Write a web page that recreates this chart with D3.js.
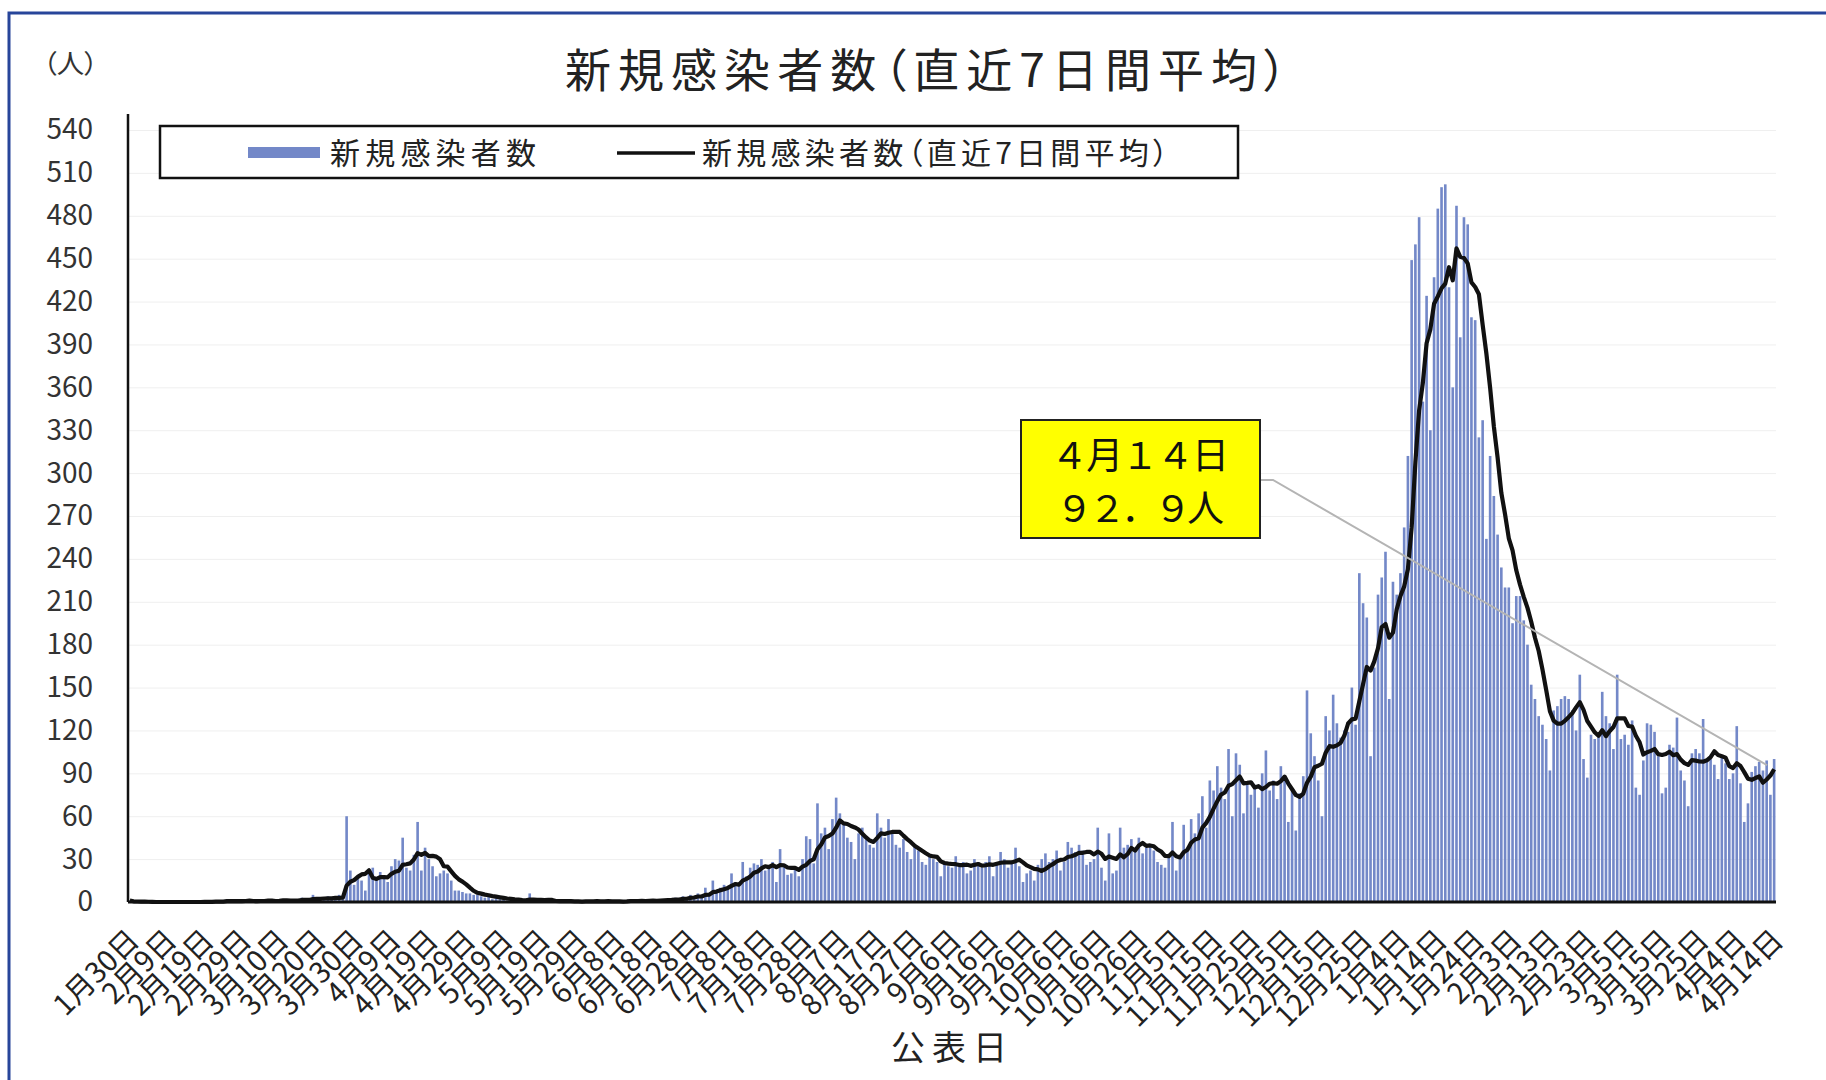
<!DOCTYPE html>
<html lang="ja">
<head>
<meta charset="utf-8">
<title>新規感染者数（直近7日間平均）</title>
<script src="https://cdn.jsdelivr.net/npm/d3@7"></script>
<style>
  body { margin: 0; background: #fff; }
  svg { display: block; font-family: "Noto Sans CJK JP", "Noto Sans", sans-serif; }
  .palt { font-feature-settings: "palt"; }
</style>
</head>
<body>
<div class="chart"></div>
<script>

// first day of the series (公表日), one value per day after that
const startDate = new Date(2020, 0, 30);

// daily new cases, Jan 30 2020 .. Apr 14 2021
const dailyCases = [
  1,0,0,0,0,0,0,0,0,0, 0,0,0,0,0,0,0,0,0,0,
  1,0,0,1,0,0,2,1,0,1, 0,1,2,0,0,1,1,2,1,0,
  1,2,1,0,2,1,3,2,1,5, 2,1,3,4,2,3,5,3,
  60,22,
  12,18,15,8,20,24,16,21,18,14,
  25,30,29,45,24,22,33,56,22,38,
  30,25,18,20,22,20,15,8,8,7,
  6,6,5,5,4,3,4,2,3,2,
  2,1,1,2,1,
  0,1,6,1,0,
  1,0,2,0,1,0,0,1,0,1,
  0,0,1,0,1,1,0,0,1,0,
  0,1,0,1,2,1,0,1,0,1,
  2,1,2,
  1,2,1,3,2,4,3,
  5,4,6,3,10,5,15,8,10,12,
  9,20,14,12,28,18,24,27,26,30,
  22,24,28,14,37,25,19,20,24,18,
  30,46,44,27,69,48,52,37,58,73,62,
  55,45,42,30,48,52,44,40,38,
  62,52,45,58,48,40,38,44,35,30,
  40,36,28,26,33,30,28,18,28,25,
  24,32,26,28,20,22,30,28,24,28,
  32,18,27,35,30,24,28,38,25,14,20,
  22,15,26,30,34,28,30,36,22,
  28,42,38,35,40,36,26,28,30,52,
  24,15,48,20,22,52,38,40,44,36,
  45,34,38,40,36,28,26,24,32,56,
  22,30,54,38,58,48,62,74,52,85,
  78,95,80,72,107,60,104,96,62,82,
  75,82,66,90,106,78,85,72,95,88,
  56,78,50,76,88,148,118,
  102,85,60,130,
  120,145,125,115,120,119,150,124,230,
  209,199,102,164,215,227,245,142,224,215,
  230,262,312,449,460,479,350,424,330,437,
  485,500,502,430,360,487,395,479,474,409,
  407,325,337,254,312,284,257,234,220,220,
  195,214,214,197,180,152,142,130,124,114,
  92,134,137,142,144,142,134,120,159,100,
  87,117,114,117,147,130,125,107,159,114,
  117,110,127,80,75,99,125,124,119,
  102,76,80,110,108,129,92,85,67,104,107,
  104,128,99,100,96,86,101,97,86,90,
  123,83,56,69,91,95,98,92,99,75,100
];

const yTicks = [0,30,60,90,120,150,180,210,240,270,300,330,360,390,420,450,480,510,540];
const labelStep = 10;   // a date label every 10 days
const avgWindow = 7;

const titleText = "新規感染者数（直近7日間平均）";
const legendLabels = ["新規感染者数", "新規感染者数（直近7日間平均）"];
const unitText = "（人）";
const xTitleText = "公表日";

const barColor = "#7388c8";

const W = 1826, H = 1080;
const plot = {left: 128, right: 1776, top: 130, bottom: 902};

const dates = dailyCases.map((d, i) => d3.timeDay.offset(startDate, i));
const fmtDay = d3.timeFormat("%-m月%-d日");
// digits and dot as full width, like the call-out box
const wide = s => s.replace(/[0-9.]/g, c => String.fromCharCode(c.charCodeAt(0) + 0xFEE0));

// 7 day rolling mean of the daily numbers
const avg = dailyCases.map((d, i) => d3.mean(dailyCases.slice(Math.max(0, i - avgWindow + 1), i + 1)));

const svg = d3.select(".chart").append("svg")
    .attr("width", W)
    .attr("height", H);

svg.append("rect").attr("width", W).attr("height", H).attr("fill", "#fff");

// blue frame round the sheet
svg.append("path")
    .attr("d", `M9,${H} V13 H${W}`)
    .attr("fill", "none")
    .attr("stroke", "#27459a")
    .attr("stroke-width", 3);

const xScale = d3.scaleBand()
    .domain(d3.range(dailyCases.length))
    .range([plot.left, plot.right])
    .paddingInner(0.3)
    .paddingOuter(0.15);

const yScale = d3.scaleLinear()
    .domain([0, 540])
    .range([plot.bottom, plot.top]);

const bw = xScale.bandwidth();

// faint grid
svg.append("g")
    .attr("class", "grid")
    .attr("transform", `translate(${plot.left},0)`)
    .call(d3.axisLeft(yScale).tickValues(yTicks).tickSize(-(plot.right - plot.left)).tickFormat(""))
    .call(g => g.select(".domain").remove())
    .call(g => g.selectAll("line").attr("stroke", "#efefef").attr("stroke-width", 1));

// bars
svg.append("g").selectAll(".bar")
    .data(dailyCases)
    .enter()
    .append("rect")
    .attr("class", "bar")
    .attr("x", (d, i) => xScale(i))
    .attr("width", bw)
    .attr("y", d => yScale(d))
    .attr("height", d => plot.bottom - yScale(d))
    .attr("fill", barColor);

// 7 day average line
const line = d3.line()
    .x((d, i) => xScale(i) + bw / 2)
    .y(d => yScale(d));

svg.append("path")
    .datum(avg)
    .attr("fill", "none")
    .attr("stroke", "#111")
    .attr("stroke-width", 4.2)
    .attr("stroke-linejoin", "round")
    .attr("d", line);

// y axis
svg.append("g")
    .attr("class", "axis y-axis")
    .attr("transform", `translate(${plot.left},0)`)
    .call(d3.axisLeft(yScale).tickValues(yTicks).tickSize(0).tickPadding(35))
    .call(g => g.select(".domain").remove())
    .call(g => g.selectAll("text")
        .attr("font-size", 28)
        .attr("fill", "#333")
        .attr("font-family", "'Noto Sans CJK JP', sans-serif"));

svg.append("line")
    .attr("x1", plot.left).attr("x2", plot.left)
    .attr("y1", plot.top - 16).attr("y2", plot.bottom)
    .attr("stroke", "#111")
    .attr("stroke-width", 2.5);

// x axis with slanted date labels
const labelIdx = d3.range(0, dailyCases.length, labelStep);

svg.append("g")
    .attr("class", "axis x-axis")
    .attr("transform", `translate(0,${plot.bottom})`)
    .call(d3.axisBottom(xScale).tickValues(labelIdx).tickSize(0).tickFormat(i => fmtDay(dates[i])))
    .call(g => g.select(".domain").remove())
    .call(g => g.selectAll("text")
        .attr("x", 0).attr("y", 0).attr("dy", null)
        .attr("text-anchor", "end")
        .attr("transform", "translate(11,40) rotate(-45)")
        .attr("font-size", 29)
        .attr("fill", "#222")
        .attr("font-family", "'Noto Sans CJK JP', sans-serif"));

svg.append("line")
    .attr("x1", plot.left).attr("x2", plot.right)
    .attr("y1", plot.bottom).attr("y2", plot.bottom)
    .attr("stroke", "#111")
    .attr("stroke-width", 3);

// titles
svg.append("text")
    .attr("class", "palt")
    .attr("x", 926).attr("y", 87)
    .attr("text-anchor", "middle")
    .attr("font-size", 46)
    .attr("fill", "#222")
    .attr("textLength", 722)
    .attr("lengthAdjust", "spacing")
    .text(titleText);

svg.append("text")
    .attr("class", "palt")
    .attr("x", 43).attr("y", 73)
    .attr("font-size", 26)
    .attr("fill", "#333")
    .attr("textLength", 55)
    .attr("lengthAdjust", "spacingAndGlyphs")
    .text(unitText);

svg.append("text")
    .attr("x", 949).attr("y", 1060)
    .attr("text-anchor", "middle")
    .attr("font-size", 34)
    .attr("fill", "#222")
    .attr("textLength", 116)
    .attr("lengthAdjust", "spacing")
    .text(xTitleText);

// legend
const legend = svg.append("g").attr("class", "legend");

legend.append("rect")
    .attr("x", 160).attr("y", 126)
    .attr("width", 1078).attr("height", 52)
    .attr("fill", "#fff")
    .attr("stroke", "#111")
    .attr("stroke-width", 2.5);

legend.append("rect")
    .attr("x", 248).attr("y", 147)
    .attr("width", 72).attr("height", 11)
    .attr("fill", barColor);

legend.append("text")
    .attr("class", "palt")
    .attr("x", 330).attr("y", 164)
    .attr("font-size", 30)
    .attr("fill", "#222")
    .attr("textLength", 206)
    .attr("lengthAdjust", "spacing")
    .text(legendLabels[0]);

legend.append("line")
    .attr("x1", 617).attr("x2", 695)
    .attr("y1", 153).attr("y2", 153)
    .attr("stroke", "#111")
    .attr("stroke-width", 3.5);

legend.append("text")
    .attr("class", "palt")
    .attr("x", 702).attr("y", 164)
    .attr("font-size", 30)
    .attr("fill", "#222")
    .attr("textLength", 466)
    .attr("lengthAdjust", "spacing")
    .text(legendLabels[1]);

// call-out for the latest average
const last = dailyCases.length - 1;
const lastX = xScale(last) + bw / 2;
const lastY = yScale(avg[last]);

svg.append("polyline")
    .attr("points", [[1260, 480], [1273, 480], [lastX - 7, lastY - 4]].map(p => p.join(",")).join(" "))
    .attr("fill", "none")
    .attr("stroke", "#b4b4b4")
    .attr("stroke-width", 2);

svg.append("rect")
    .attr("x", 1021).attr("y", 420)
    .attr("width", 239).attr("height", 118)
    .attr("fill", "#ffff00")
    .attr("stroke", "#222")
    .attr("stroke-width", 2);

svg.append("text")
    .attr("x", 1140).attr("y", 469)
    .attr("text-anchor", "middle")
    .attr("font-size", 37)
    .attr("fill", "#111")
    .attr("textLength", 178)
    .attr("lengthAdjust", "spacing")
    .text(wide(fmtDay(dates[last])));

svg.append("text")
    .attr("x", 1140).attr("y", 522)
    .attr("text-anchor", "middle")
    .attr("font-size", 37)
    .attr("fill", "#111")
    .attr("textLength", 168)
    .attr("lengthAdjust", "spacing")
    .text(wide(d3.format(".1f")(avg[last])) + "人");

</script>
</body>
</html>
